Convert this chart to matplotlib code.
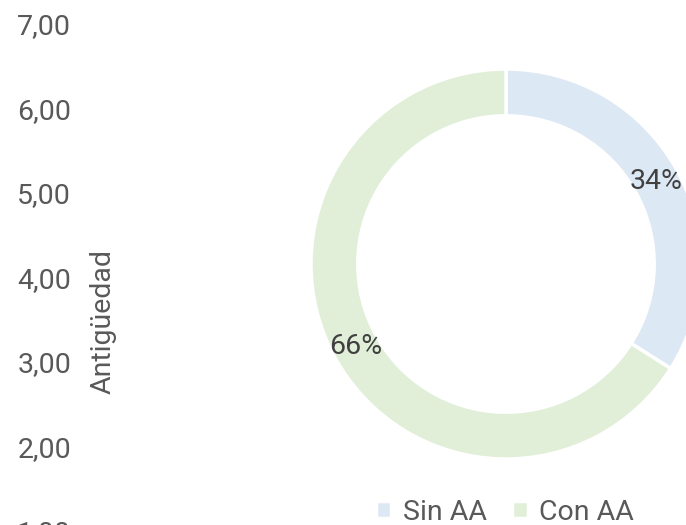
import matplotlib
matplotlib.use('Agg')
import matplotlib.pyplot as plt

plt.rcParams['font.family'] = ['Roboto', 'DejaVu Sans']

# data
categorias = ['Sin AA', 'Con AA']
porcentajes = [34, 66]
colores = ['#dde8f5', '#e1efd9']
y_ticks = [1, 2, 3, 4, 5, 6, 7]

fig = plt.figure(figsize=(6.86, 5.25), dpi=100)

# left axis with the y ticks only
ax_y = fig.add_axes([78 / 686, -6 / 525, 0.01, 507 / 525])
ax_y.set_ylim(1, 7)
ax_y.set_yticks(y_ticks)
ax_y.set_yticklabels([f'{v:.2f}'.replace('.', ',') for v in y_ticks])
ax_y.tick_params(axis='y', length=0, pad=5, labelsize=20.5, labelcolor='#595959')
ax_y.set_xticks([])
for s in ax_y.spines.values():
    s.set_visible(False)
ax_y.patch.set_alpha(0)
fig.text(103 / 686, 1 - 321 / 525, 'Antigüedad', rotation=90, ha='center', va='center',
         fontsize=20.5, color='#595959')

# donut
ax = fig.add_axes([311 / 686, 66 / 525, 390 / 686, 390 / 525])
wedges, texts, autotexts = ax.pie(
    porcentajes, colors=colores, startangle=90, counterclock=False,
    autopct='%1.0f%%', pctdistance=0.88, radius=1,
    wedgeprops=dict(width=0.24, edgecolor='white', linewidth=2.5),
    textprops=dict(fontsize=20.5, color='#404040'))
ax.set_xlim(-1, 1)
ax.set_ylim(-1, 1)
ax.set_aspect('equal')

fig.legend(wedges, categorias, loc='center', bbox_to_anchor=(505 / 686, 1 - 512 / 525),
           ncol=2, frameon=False, fontsize=20.5, labelcolor='#595959',
           handlelength=0.55, handleheight=0.55, handletextpad=0.4, columnspacing=0.9)

fig.savefig('out.png', dpi=100)
